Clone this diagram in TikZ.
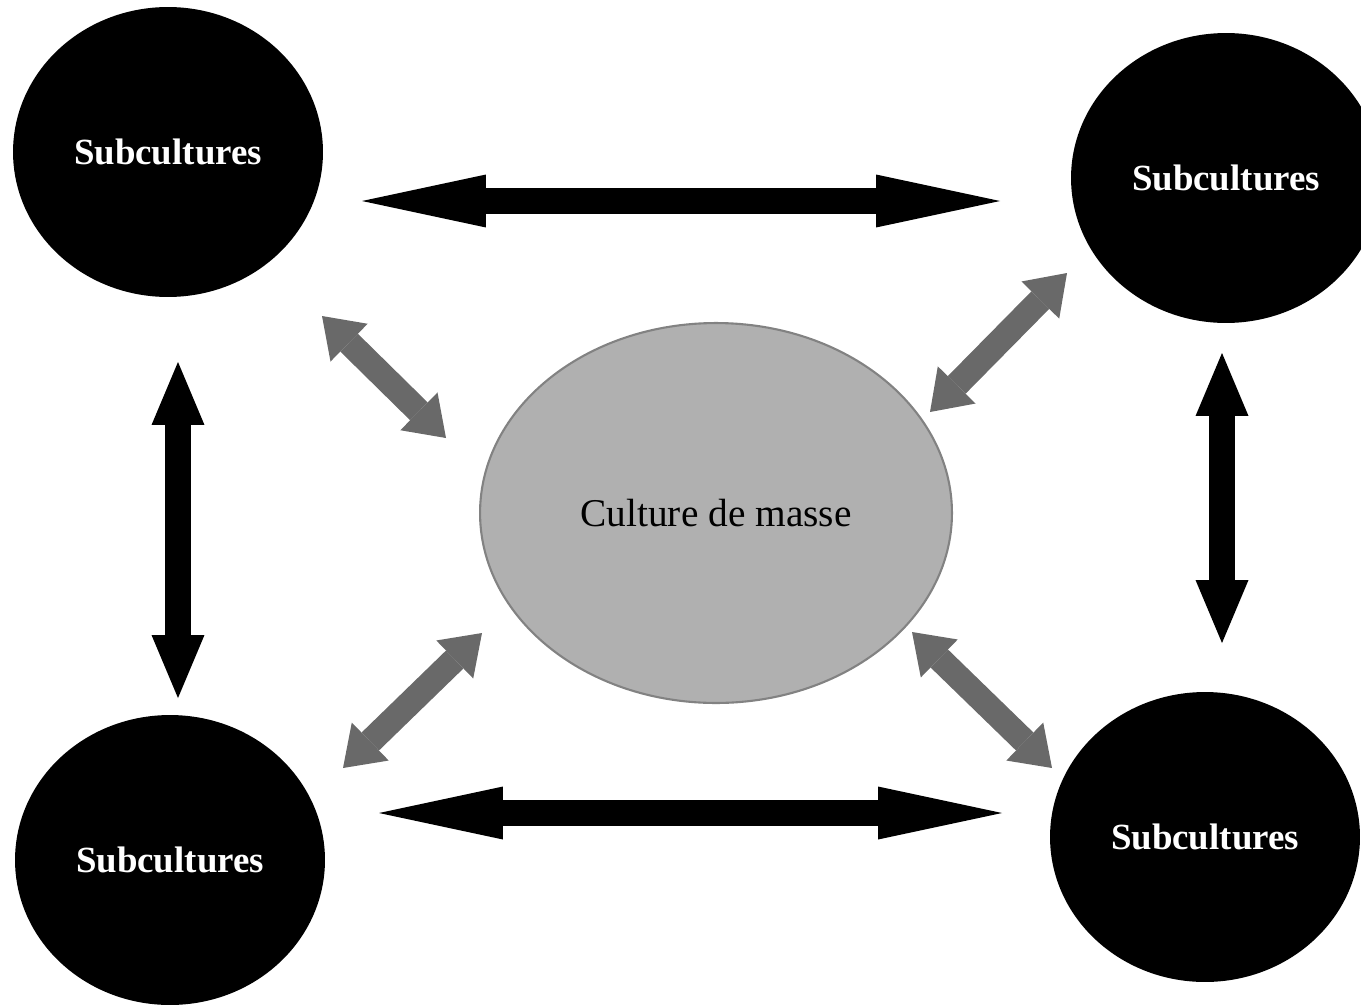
\documentclass[tikz,border=0pt]{standalone}
\usepackage{fontspec}
\setmainfont{Liberation Serif}
\usepackage{tkz-graph}
\usetikzlibrary{arrows.meta,shapes.geometric}
\definecolor{massgray}{RGB}{176,176,176}
\definecolor{rimgray}{RGB}{130,130,130}
\definecolor{linkgray}{RGB}{105,105,105}

\begin{document}
\begin{tikzpicture}[x=0.02cm, y=-0.02cm]
    \useasboundingbox (0,0) rectangle (1361,1004);
    \tikzset{VertexStyle/.style = {shape          = ellipse,
                                   fill           = black,
                                   minimum width  = 6.2cm,
                                   minimum height = 5.8cm,
                                   inner sep      = 0pt,
                                   text           = white,
                                   font           = \fontsize{21}{25}\selectfont\bfseries}}
    \Vertex[x = 168,  y = 152, L = {Subcultures}]{NW}
    \Vertex[x = 1226, y = 178, L = {Subcultures}]{NE}
    \Vertex[x = 170,  y = 860, L = {Subcultures}]{SW}
    \Vertex[x = 1205, y = 837, L = {Subcultures}]{SE}
    \tikzset{VertexStyle/.style = {shape          = ellipse,
                                   fill           = massgray,
                                   draw           = rimgray,
                                   line width     = 1.2pt,
                                   minimum width  = 9.44cm,
                                   minimum height = 7.6cm,
                                   inner sep      = 0pt,
                                   text           = black,
                                   font           = \fontsize{22.4}{26}\selectfont}}
    \Vertex[x = 716,  y = 513, L = {Culture de masse}]{M}
    % ends of the block arrows
    \coordinate (H1) at (362,201);  \coordinate (H2) at (1000,201);
    \coordinate (B1) at (379,813);  \coordinate (B2) at (1002,813);
    \coordinate (L1) at (178,362);  \coordinate (L2) at (178,698);
    \coordinate (R1) at (1222,353); \coordinate (R2) at (1222,643);
    \coordinate (A1) at (322,316);  \coordinate (A2) at (446,438);
    \coordinate (C1) at (1067,273); \coordinate (C2) at (930,412);
    \coordinate (D1) at (482,633);  \coordinate (D2) at (343,768);
    \coordinate (E1) at (912,632);  \coordinate (E2) at (1052,768);
    \tikzset{EdgeStyle/.style = {draw       = black,
                                 line width = 0.53cm,
                                 >          = {Triangle[length=2.48cm, width=1.06cm, line width=0pt]},
                                 <->}}
    \Edge(H1)(H2)
    \Edge(B1)(B2)
    \tikzset{EdgeStyle/.style = {draw       = black,
                                 line width = 0.53cm,
                                 >          = {Triangle[length=1.26cm, width=1.06cm, line width=0pt]},
                                 <->}}
    \Edge(L1)(L2)
    \Edge(R1)(R2)
    \tikzset{EdgeStyle/.style = {draw       = linkgray,
                                 line width = 0.5cm,
                                 >          = {Triangle[length=0.76cm, width=1.06cm, line width=0pt]},
                                 <->}}
    \Edge(A1)(A2)
    \Edge(C1)(C2)
    \Edge(D1)(D2)
    \Edge(E1)(E2)
\end{tikzpicture}
\end{document}
